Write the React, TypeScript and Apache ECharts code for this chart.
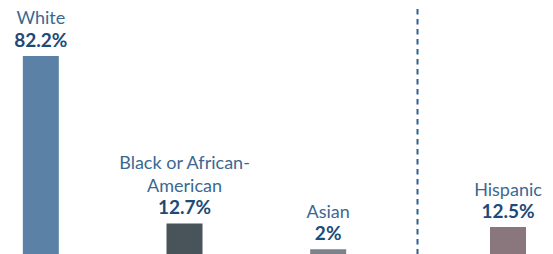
import React, { useEffect, useRef } from "react";
import * as echarts from "echarts";

const raceCategories = ["White", "Black or African-\nAmerican", "Asian"];
const raceValues = [82.2, 12.7, 2];
const raceLabels = ["82.2%", "12.7%", "2%"];
const raceColors = ["#5b82a6", "#48535a", "#7c8289"];

const ethnicCategories = ["Hispanic"];
const ethnicValues = [12.5];
const ethnicLabels = ["12.5%"];
const ethnicColors = ["#8a777e"];

const FONT = "Lato, 'Open Sans', sans-serif";

function labelFor(names: string[], labels: string[]) {
  return {
    show: true,
    position: "top" as const,
    distance: 6,
    formatter: (p: any) => {
      const lines = names[p.dataIndex].split("\n").map((l) => `{n|${l}}`);
      return lines.join("\n") + `\n{v|${labels[p.dataIndex]}}`;
    },
    rich: {
      n: { fontFamily: FONT, fontSize: 18, color: "#3b6893", lineHeight: 23 },
      v: { fontFamily: FONT, fontSize: 19, fontWeight: "bold", color: "#1d4a78", lineHeight: 21 },
    },
  };
}

export default function App() {
  const ref = useRef<HTMLDivElement>(null);
  useEffect(() => {
    if (!ref.current) return;
    const chart = echarts.init(ref.current, undefined, { renderer: "svg" });
    chart.setOption({
      animation: false,
      grid: [
        { left: -31, width: 431, top: 13, bottom: 0, outerBoundsMode: "none", containLabel: false },
        { left: 448, width: 120, top: 38, bottom: 0, outerBoundsMode: "none", containLabel: false },
      ],
      xAxis: [
        { type: "category", gridIndex: 0, data: raceCategories, show: false },
        { type: "category", gridIndex: 1, data: ethnicCategories, show: false },
      ],
      yAxis: [
        { type: "value", gridIndex: 0, min: 0, max: 100, show: false },
        { type: "value", gridIndex: 1, min: 0, max: 100, show: false },
      ],
      series: [
        {
          type: "bar",
          xAxisIndex: 0,
          yAxisIndex: 0,
          barWidth: 36,
          data: raceValues.map((v, i) => ({ value: v, itemStyle: { color: raceColors[i] } })),
          label: labelFor(raceCategories, raceLabels),
        },
        {
          type: "bar",
          xAxisIndex: 1,
          yAxisIndex: 1,
          barWidth: 36,
          data: ethnicValues.map((v, i) => ({ value: v, itemStyle: { color: ethnicColors[i] } })),
          label: labelFor(ethnicCategories, ethnicLabels),
        },
      ],
      graphic: [
        {
          type: "line",
          shape: { x1: 417.5, y1: 9, x2: 417.5, y2: 254 },
          style: { stroke: "#2f5f8f", lineWidth: 2, lineDash: [5.5, 4.5] },
        },
      ],
    });
    return () => chart.dispose();
  }, []);
  return (
    <div
      ref={ref}
      style={{ position: "absolute", left: 0, top: 0, width: 553, height: 254 }}
    />
  );
}
